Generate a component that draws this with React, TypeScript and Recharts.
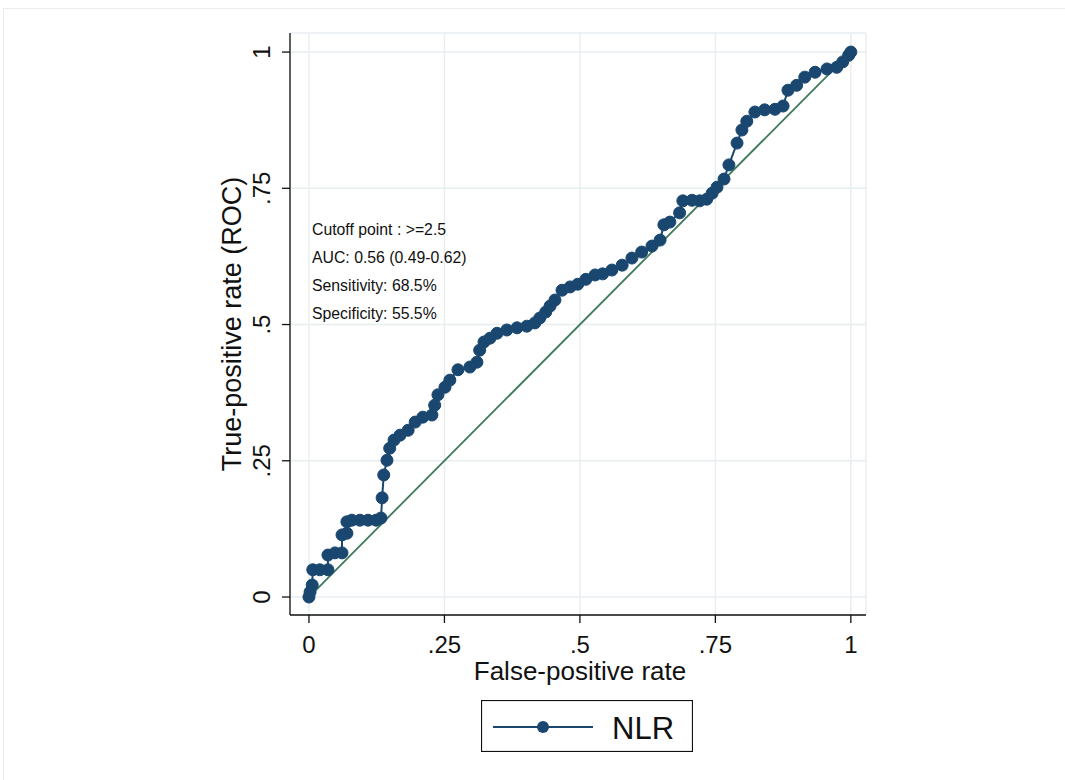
import React from "react";
import { ComposedChart, Line, XAxis, YAxis, CartesianGrid, Legend } from "recharts";

// ROC points (false-positive rate, true-positive rate)
const fpr = [
  0, 0.002, 0.006, 0.007, 0.02, 0.035, 0.035, 0.048, 0.061, 0.061, 0.07, 0.07, 0.079, 0.094, 0.109,
  0.124, 0.133, 0.135, 0.138, 0.144, 0.149, 0.157, 0.168, 0.183, 0.196, 0.21, 0.227, 0.232, 0.238,
  0.251, 0.26, 0.275, 0.297, 0.31, 0.315, 0.323, 0.334, 0.347, 0.365, 0.384, 0.402, 0.417, 0.426,
  0.437, 0.445, 0.454, 0.467, 0.482, 0.496, 0.511, 0.528, 0.542, 0.559, 0.578, 0.596, 0.614, 0.633,
  0.648, 0.655, 0.666, 0.684, 0.69, 0.707, 0.721, 0.734, 0.744, 0.753, 0.766, 0.775, 0.79, 0.799,
  0.808, 0.823, 0.841, 0.86, 0.875, 0.884, 0.9, 0.915, 0.934, 0.956, 0.974, 0.985, 0.996, 1,
];
const tpr = [
  0, 0.009, 0.022, 0.05, 0.05, 0.05, 0.077, 0.081, 0.081, 0.114, 0.117, 0.138, 0.141, 0.141, 0.141,
  0.141, 0.145, 0.182, 0.224, 0.251, 0.273, 0.288, 0.297, 0.306, 0.321, 0.33, 0.334, 0.352, 0.371,
  0.385, 0.398, 0.417, 0.422, 0.431, 0.453, 0.468, 0.475, 0.484, 0.49, 0.494, 0.497, 0.503, 0.512,
  0.523, 0.534, 0.545, 0.563, 0.569, 0.574, 0.583, 0.591, 0.593, 0.6, 0.609, 0.622, 0.633, 0.644,
  0.655, 0.683, 0.688, 0.705, 0.727, 0.728, 0.727, 0.73, 0.741, 0.752, 0.767, 0.793, 0.833, 0.857,
  0.873, 0.89, 0.894, 0.895, 0.901, 0.93, 0.939, 0.954, 0.963, 0.969, 0.972, 0.982, 0.994, 1,
];
const diagFpr = [0, 1];
const diagTpr = [0, 1];

const axisTicks = [0, 0.25, 0.5, 0.75, 1];
const tickLabels = ["0", ".25", ".5", ".75", "1"];
const seriesName = "NLR";
const xTitle = "False-positive rate";
const yTitle = "True-positive rate (ROC)";
const notes = [
  "Cutoff point : >=2.5",
  "AUC: 0.56 (0.49-0.62)",
  "Sensitivity: 68.5%",
  "Specificity: 55.5%",
];

const rocData = fpr.map((x, i) => ({ fpr: x, tpr: tpr[i] }));
const diagData = diagFpr.map((x, i) => ({ fpr: x, tpr: diagTpr[i] }));

const NAVY = "#1a476f";
const GREEN = "#3d7a5c";
const FONT = "Arial, 'Liberation Sans', sans-serif";

const fmt = (v: number) => tickLabels[axisTicks.indexOf(v)] ?? String(v);

const YTick = (props: any) => {
  const { x, y, payload } = props;
  return (
    <text
      x={x}
      y={y}
      transform={`rotate(-90 ${x} ${y})`}
      textAnchor="middle"
      fontSize={24}
      fontFamily={FONT}
      fill="#111"
    >
      {fmt(payload.value)}
    </text>
  );
};

const XTick = (props: any) => {
  const { x, y, payload } = props;
  return (
    <text x={x} y={y + 28} textAnchor="middle" fontSize={24} fontFamily={FONT} fill="#111">
      {fmt(payload.value)}
    </text>
  );
};

const LegendBox = (props: any) => {
  const item = (props.payload || []).find((p: any) => p.value === seriesName);
  return (
    <svg width={212} height={52} style={{ display: "block" }}>
      <rect x={0.5} y={0.5} width={211} height={51} fill="#fff" stroke="#111" strokeWidth={1.2} />
      <line x1={12} y1={27} x2={112} y2={27} stroke={NAVY} strokeWidth={2} />
      <circle cx={62} cy={27} r={6} fill={NAVY} />
      <text x={131} y={39} fontSize={31} fontFamily={FONT} fill="#111">
        {item ? item.value : seriesName}
      </text>
    </svg>
  );
};

export default function App() {
  return (
    <div style={{ position: "absolute", left: 0, top: 0, width: 1065, height: 780, background: "#fff" }}>
      <div
        style={{
          position: "absolute",
          left: 3,
          top: 8,
          width: 1070,
          height: 780,
          border: "1px solid #ececec",
          boxSizing: "border-box",
        }}
      />
      <ComposedChart
        width={1065}
        height={780}
        margin={{ top: 33, right: 199, bottom: 0, left: 0 }}
        style={{ position: "absolute", left: 0, top: 0 }}
      >
        <CartesianGrid stroke="#e8eef0" strokeWidth={1.5} />
        <XAxis
          type="number"
          dataKey="fpr"
          domain={[-0.035, 1.028]}
          ticks={axisTicks}
          allowDataOverflow
          height={165}
          axisLine={{ stroke: "#111", strokeWidth: 1.3 }}
          tickLine={{ stroke: "#111", strokeWidth: 1.3 }}
          tickSize={8}
          tick={<XTick />}
        />
        <YAxis
          type="number"
          dataKey="tpr"
          domain={[-0.033, 1.035]}
          ticks={axisTicks}
          allowDataOverflow
          width={290}
          axisLine={{ stroke: "#111", strokeWidth: 1.3 }}
          tickLine={{ stroke: "#111", strokeWidth: 1.3 }}
          tickSize={8}
          tickMargin={12}
          tick={<YTick />}
        />
        <Line
          data={diagData}
          dataKey="tpr"
          stroke={GREEN}
          strokeWidth={1.8}
          dot={false}
          activeDot={false}
          legendType="none"
          isAnimationActive={false}
        />
        <Line
          data={rocData}
          dataKey="tpr"
          name={seriesName}
          type="linear"
          stroke={NAVY}
          strokeWidth={2}
          dot={{ r: 6, fill: NAVY, stroke: NAVY, strokeWidth: 1 }}
          activeDot={false}
          isAnimationActive={false}
        />
        <Legend
          layout="horizontal"
          verticalAlign="middle"
          align="center"
          content={<LegendBox />}
          wrapperStyle={{ top: 700, left: 481, width: 212, height: 52 }}
        />
        <text x={580} y={680} textAnchor="middle" fontSize={26} fontFamily={FONT} fill="#111">
          {xTitle}
        </text>
        <text
          x={241}
          y={324}
          transform="rotate(-90 241 324)"
          textAnchor="middle"
          fontSize={27}
          fontFamily={FONT}
          fill="#111"
        >
          {yTitle}
        </text>
        {notes.map((t, i) => (
          <text key={t} x={312} y={235 + i * 28} fontSize={15.8} fontFamily={FONT} fill="#111">
            {t}
          </text>
        ))}
      </ComposedChart>
    </div>
  );
}
